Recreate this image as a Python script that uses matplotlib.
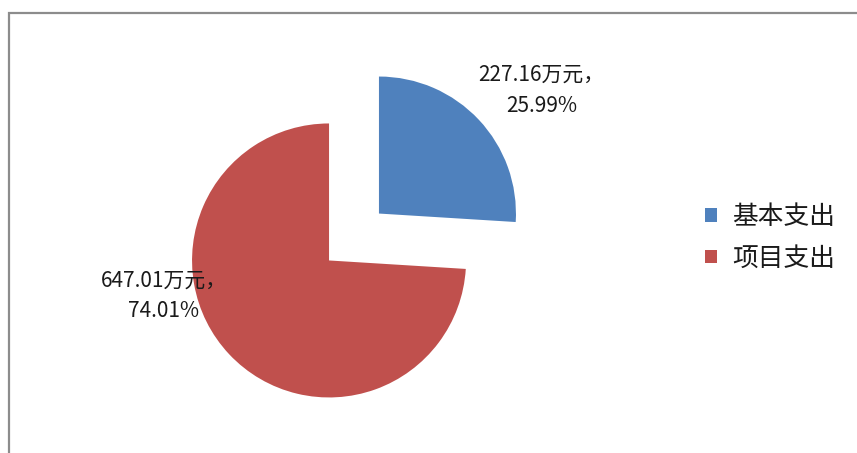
import matplotlib.pyplot as plt
from matplotlib.patches import Rectangle

plt.rcParams['font.family'] = ['Noto Sans CJK SC', 'DejaVu Sans']

# données du graphique
categories = ["基本支出", "项目支出"]
montants = [227.16, 647.01]  # 万元
pourcentages = [25.99, 74.01]
couleurs = ["#4F81BD", "#C0504D"]

fig = plt.figure(figsize=(8.57, 4.53), dpi=100)
W, H = 857, 453

# cadre gris (bord gauche et haut seulement visibles)
fig.patches.append(Rectangle((9 / W, -0.1), 1.2, 1 - 13 / H + 0.1, transform=fig.transFigure,
                             fill=False, edgecolor="#8c8c8c", linewidth=1.6))

ax = fig.add_axes([0, 0, 1, 1])
wedges, _ = ax.pie(montants, colors=couleurs, startangle=90, counterclock=False,
                   explode=[0.25, 0.25], radius=1)

# rayon 1 = 137 px, centre en (354, 237)
r, cx, cy = 137, 354, 237
ax.set_aspect("auto")
ax.set_xlim(-cx / r, (W - cx) / r)
ax.set_ylim(-(H - cy) / r, cy / r)
ax.axis("off")

# étiquettes (position choisie à la main, comme Excel)
pos_labels = [(1.37, 1.07), (-1.39, -0.43)]
for m, p, (x, y) in zip(montants, pourcentages, pos_labels):
    ax.text(x, y, f"{m:.2f}万元，\n{p:.2f}%", ha="center", va="center",
            fontsize=15, color="#1a1a1a", linespacing=1.5)

leg = ax.legend(wedges, categories, loc="center left",
                bbox_to_anchor=(705 / W, 1 - 238 / H), bbox_transform=fig.transFigure,
                frameon=False, fontsize=18.5, handlelength=0.45, handleheight=0.45,
                labelspacing=0.6, handletextpad=0.6, borderaxespad=0, borderpad=0)
for t in leg.get_texts():
    t.set_color("#1a1a1a")

plt.savefig("out.png", dpi=100)
